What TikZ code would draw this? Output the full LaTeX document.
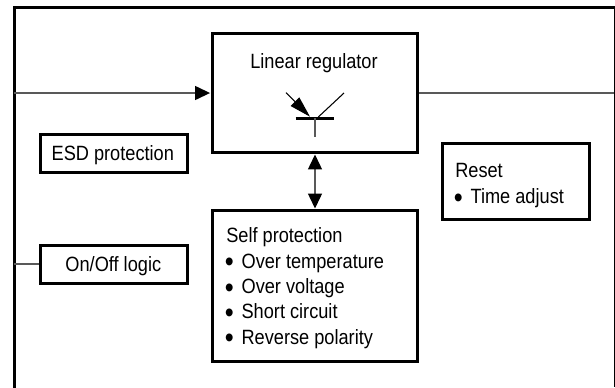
\documentclass[tikz,border=0pt]{standalone}
\usepackage{fontspec}
\usepackage{graphicx}
\setmainfont[FakeStretch=0.88]{Liberation Sans}
\usetikzlibrary{arrows.meta}
\tikzset{
  thick box/.style={draw=black,line width=2.25pt,inner sep=0pt,anchor=center},
  thin line/.style={draw=black!65,line width=1pt},
  lbl/.style={font=\fontsize{15.5}{19}\selectfont,inner sep=0pt,align=left,text=black},
  tip/.style={-{Triangle[length=11.25pt,width=10.5pt,color=black,fill=black]}},
  pit/.style={{Triangle[length=11.25pt,width=10.5pt,color=black,fill=black]}-{Triangle[length=11.25pt,width=10.5pt,color=black,fill=black]}},
}
\newcommand{\itm}{\makebox[11.5pt][l]{\hspace{-1pt}\raisebox{-2.9pt}{\scalebox{1.4}{\textbullet}}}}
\begin{document}
\begin{tikzpicture}[x=0.75pt,y=-0.75pt]
\useasboundingbox (0,0) rectangle (615,387);
\fill[white] (0,0) rectangle (615,387);
% outer frame
\coordinate (fbl) at (14.2,387);
\coordinate (ftl) at (14.2,7.4);
\coordinate (ftr) at (614.5,7.4);
\coordinate (fbr) at (614.5,387);
\draw[line width=2.4pt,black,line cap=rect] (fbl) -- (ftl) -- (ftr);
\draw[line width=1pt,black] (ftr) -- (fbr);
% boxes
\node[thick box,minimum width=153.75pt,minimum height=89.6pt] (reg) at (315,93.25) {};
\node[thick box,minimum width=153.75pt,minimum height=113.6pt] (self) at (315,285.75) {};
\node[thick box,minimum width=110.25pt,minimum height=28.5pt] (esd) at (113.5,153) {};
\node[thick box,minimum width=110.25pt,minimum height=28.5pt] (onoff) at (113.5,264) {};
\node[thick box,minimum width=110.6pt,minimum height=56.8pt] (reset) at (516.2,181.7) {};
% texts
\node[lbl,anchor=base] (t1) at (314,68.3) {Linear regulator};
\node[lbl,anchor=base] (t2) at (112.8,160.7) {ESD protection};
\node[lbl,anchor=base] (t3) at (113.3,271.7) {On/Off logic};
\node[lbl,anchor=north west] (t4) at (455,163.5) {Reset\\\itm Time adjust};
\node[lbl,anchor=north west] (t5) at (226,227.5) {Self protection\\\itm Over temperature\\\itm Over voltage\\\itm Short circuit\\\itm Reverse polarity};
% connectors
\coordinate (inL) at (14,93);
\coordinate (outR) at (614,93);
\coordinate (onL) at (14,264);
\draw[thin line,tip,shorten >=0.7pt] (inL) -- (reg.west |- inL);
\draw[thin line] (reg.east |- outR) -- (outR);
\draw[thin line] (onL) -- (onoff.west);
\draw[thin line,pit] (reg.south) -- (self.north);
% transistor
\coordinate (bl) at (295.7,118.3);
\coordinate (br) at (334.3,118.3);
\coordinate (bc) at (315,118.3);
\coordinate (be) at (315,137);
\coordinate (el) at (286,92.7);
\coordinate (eb) at (310,116.7);
\coordinate (cb) at (318.3,117);
\coordinate (cr) at (344,93);
\draw[line width=2.1pt,black] (bl) -- (br);
\draw[thin line] (bc) -- (be);
\draw[line width=0.8pt,black,-{Triangle[length=16pt,width=9pt]}] (el) -- (eb);
\draw[line width=0.8pt,black] (cb) -- (cr);
\end{tikzpicture}
\end{document}
